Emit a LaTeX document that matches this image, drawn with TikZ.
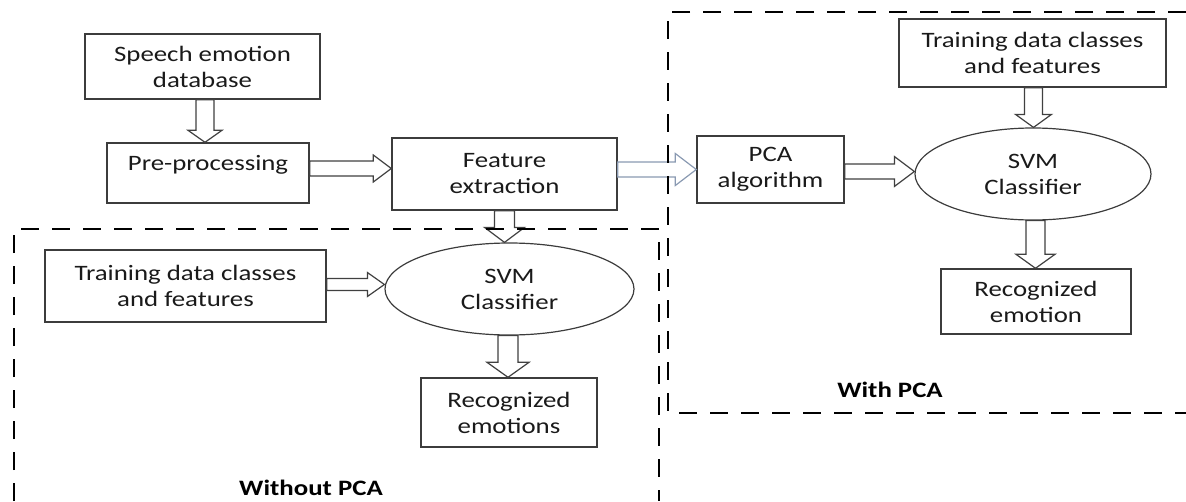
\documentclass[tikz,border=0pt]{standalone}
\usepackage{fontspec}
\setmainfont{Carlito}[FakeStretch=1.22]
\usetikzlibrary{calc,shapes.geometric}

\definecolor{boxgray}{HTML}{3C3C3C}
\definecolor{arrgray}{HTML}{404040}
\definecolor{arrblue}{HTML}{8A9AB2}
\definecolor{txt}{HTML}{1A1A1A}
\newcommand\lblfont{\fontsize{22}{26}\selectfont}

% hollow block arrow pointing right: start, end, shaft half width, head half width, head length
\newcommand\harrow[6][]{%
  \draw[blk,#1] let \p1=(#2), \p2=(#3) in
    (\x1,\y1+#4) -- (\x2-#6,\y1+#4) -- (\x2-#6,\y1+#5) -- (\x2,\y1)
    -- (\x2-#6,\y1-#5) -- (\x2-#6,\y1-#4) -- (\x1,\y1-#4) -- cycle;}
% hollow block arrow pointing down
\newcommand\varrow[6][]{%
  \draw[blk,#1] let \p1=(#2), \p2=(#3) in
    (\x1-#4,\y1) -- (\x1-#4,\y2+#6) -- (\x1-#5,\y2+#6) -- (\x1,\y2)
    -- (\x1+#5,\y2+#6) -- (\x1+#4,\y2+#6) -- (\x1+#4,\y1) -- cycle;}

\begin{document}
\begin{tikzpicture}[x=1pt,y=-1pt,
  box/.style={draw=boxgray, line width=1.4pt, inner sep=0pt, font=\lblfont, text=txt, align=center},
  oval/.style={ellipse, draw=boxgray, line width=1.2pt, inner sep=0pt, font=\lblfont, text=txt, align=center},
  blk/.style={draw=arrgray, line width=1.2pt, fill=white, line join=miter},
  frame/.style={draw=black, line width=1.3pt, dash pattern=on 18pt off 13pt},
  title/.style={font=\lblfont\bfseries, text=black, inner sep=0pt}]

\useasboundingbox (0,0) rectangle (1186,501);

% common front end
\node[box, minimum width=235pt, minimum height=65pt] (sed) at (202.5,66.5) {Speech emotion\\database};
\node[box, align=none, minimum width=202pt, minimum height=60pt, text height=16pt, text depth=22pt] (pre) at (208,173) {Pre-processing};
\node[box, minimum width=225pt, minimum height=72pt] (fe) at (504.5,174) {Feature\\extraction};

% branch without PCA
\node[box, minimum width=281pt, minimum height=72pt] (trL) at (185.5,286) {Training data classes\\and features};
\node[oval, minimum width=249pt, minimum height=92pt] (svmL) at (509.5,289) {SVM\\Classifier};
\node[box, minimum width=176pt, minimum height=69pt] (reL) at (509,412.5) {Recognized\\emotions};
\node[title] (tWithout) at (311,488) {Without PCA};

% branch with PCA
\node[box, minimum width=147pt, minimum height=67pt] (pca) at (770.5,169.5) {PCA\\algorithm};
\node[box, minimum width=267pt, minimum height=68pt] (trR) at (1032.5,53) {Training data classes\\and features};
\node[oval, minimum width=236pt, minimum height=92pt] (svmR) at (1033,174) {SVM\\Classifier};
\node[box, minimum width=190pt, minimum height=65pt] (reR) at (1036,301.5) {Recognized\\emotion};
\node[title] (tWith) at (890,390) {With PCA};

% block arrows
\varrow{$(sed.south)+(2.5,0)$}{pre.north}{9pt}{17pt}{12pt}
\harrow{$(pre.east)+(0,-4.5)$}{fe.west}{7.5pt}{13.5pt}{18pt}
\harrow[draw=arrblue]{fe.east |- pca.center}{pca.west}{7.5pt}{16pt}{21pt}
\varrow{fe.south}{svmL.north}{10pt}{20pt}{15pt}
\harrow{$(trL.east)+(0,-1.5)$}{svmL.west}{6pt}{12pt}{17pt}
\varrow{$(svmL.south)+(-1.5,0)$}{reL.north}{10pt}{21pt}{15pt}
\harrow{$(pca.east)+(0,2)$}{svmR.west}{7.5pt}{15pt}{20pt}
\varrow{$(trR.south)+(1,0)$}{svmR.north}{9pt}{18pt}{13pt}
\varrow{$(svmR.south)+(2.5,0)$}{reR.north}{9.5pt}{19.5pt}{14pt}

% dashed frames, drawn over the arrows they cross
\draw[frame] (14,501) -- (14,229) -- (659,229) -- (659,501);
\draw[frame] (1186,12) -- (668,12) -- (668,413) -- (1186,413);

\end{tikzpicture}
\end{document}
